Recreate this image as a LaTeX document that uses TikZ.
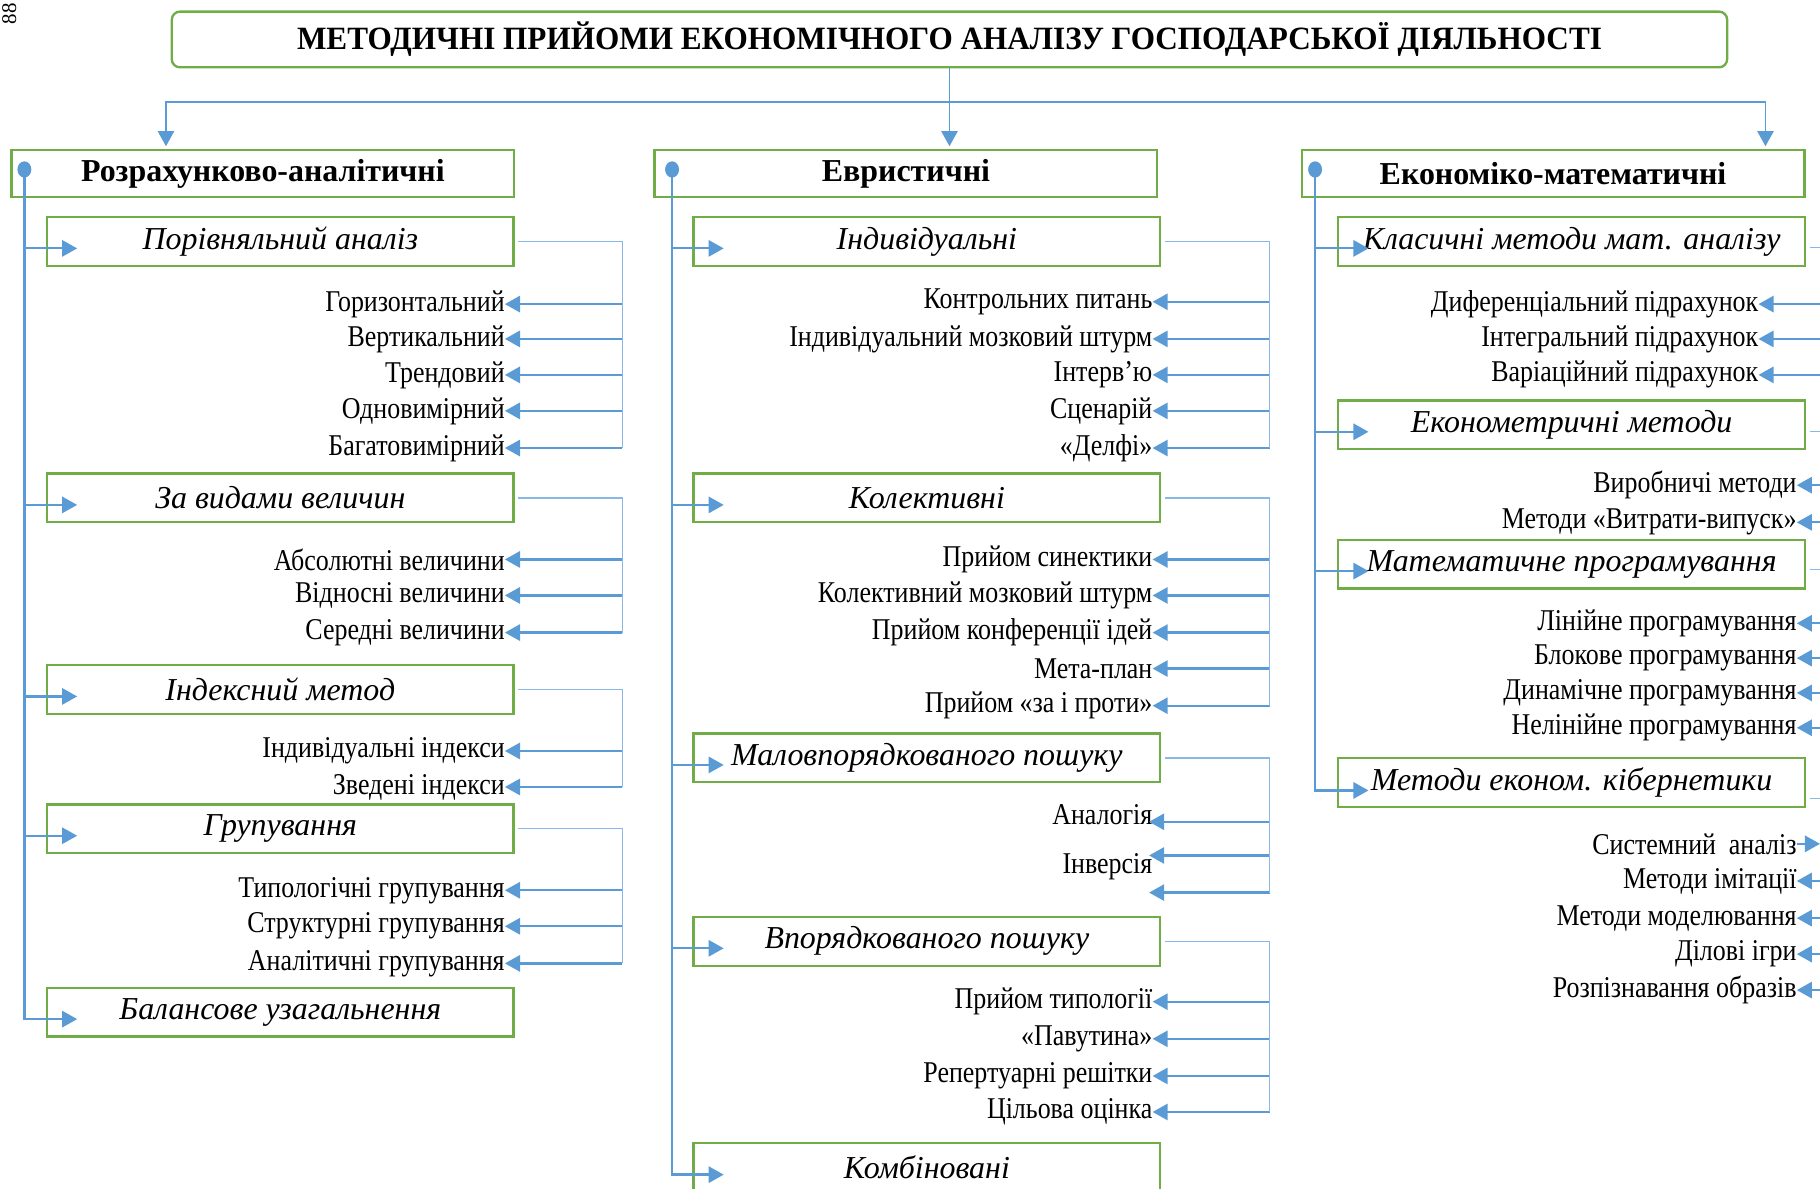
\documentclass[tikz,border=0pt]{standalone}
\usepackage{fontspec}
\setmainfont{Liberation Serif}
\newfontfamily\itemfont[FakeStretch=0.86]{Liberation Serif}
\newfontfamily\titlefont[FakeStretch=0.96]{Liberation Serif}
\usetikzlibrary{arrows.meta,shapes.geometric}

\definecolor{boxgreen}{HTML}{70AD47}
\definecolor{arrblue}{HTML}{5B9BD5}
\definecolor{linkblue}{HTML}{8AB8E6}

\tikzset{
  titlebox/.style={draw=boxgreen, line width=2pt, rounded corners=7pt,
    minimum width=1340pt, minimum height=48pt,
    font=\titlefont\bfseries\fontsize{28}{30}\selectfont},
  hdrbox/.style={draw=boxgreen, line width=2pt, minimum width=433pt,
    minimum height=41pt, font=\bfseries\fontsize{27.5}{30}\selectfont},
  subbox/.style={draw=boxgreen, line width=2pt, minimum width=402pt,
    minimum height=42pt, font=\itshape\fontsize{27.5}{30}\selectfont},
  itm/.style={anchor=east, inner sep=0pt, font=\itemfont\fontsize{26}{28}\selectfont},
  dot/.style={ellipse, fill=arrblue, inner sep=0pt, minimum width=12pt, minimum height=14pt},
  arr/.style={draw=arrblue, line width=1.9pt, -{Triangle[length=13pt,width=14pt]}},
  link/.style={draw=linkblue, line width=1pt}
}

\begin{document}
\begin{tikzpicture}[x=1pt,y=-1pt]
  \useasboundingbox (0,0) rectangle (1568,1024);
  \node[rotate=90, inner sep=0pt, font=\fontsize{18}{18}\selectfont] (pg) at (8,12) {88};

  % title and the three groups
  \node[titlebox] (T) at (818,34) {МЕТОДИЧНІ ПРИЙОМИ ЕКОНОМІЧНОГО АНАЛІЗУ ГОСПОДАРСЬКОЇ ДІЯЛЬНОСТІ};
  \node[hdrbox] (R) at (226.5,149.5) {Розрахунково-аналітичні};
  \node[hdrbox] (E) at (780.5,149.5) {Евристичні};
  \node[hdrbox] (M) at (1338,149.5) {Економіко-математичні};
  \coordinate (split) at (818,88);
  \coordinate (in1) at (143,126);
  \coordinate (in2) at (818,126);
  \coordinate (in3) at (1521,126);
  \draw[link, line width=1.3pt, draw=arrblue] (T.south) -- (split);
  \draw[arr, line width=1.4pt] (split) -| (in1);
  \draw[arr, line width=1.4pt] (split) -- (in2);
  \draw[arr, line width=1.4pt] (split) -| (in3);
  \node[dot] (d1) at (21,146) {};
  \node[dot] (d2) at (579,146) {};
  \node[dot] (d3) at (1133,146) {};

  % ---------- Розрахунково-аналітичні
  \node[subbox] (R1) at (241.5,208) {Порівняльний аналіз};
  \node[subbox] (R2) at (241.5,429) {За видами величин};
  \node[subbox] (R3) at (241.5,594) {Індексний метод};
  \node[subbox] (R4) at (241.5,714) {Групування};
  \node[subbox] (R5) at (241.5,872) {Балансове узагальнення};
  \foreach \b in {R1,R2,R3,R4}
    \draw[arr] ([yshift=-6pt]\b.west -| d1) -- ([xshift=27pt,yshift=-6pt]\b.west);
  \draw[arr, line width=2pt] (d1.center) |- ([xshift=27pt,yshift=-6pt]R5.west);
  \coordinate (g1) at (536,0);
  \foreach \t/\y [count=\i] in {Горизонтальний/262, Вертикальний/292, Трендовий/323,
      Одновимірний/354, Багатовимірний/386} {
    \node[itm] (R1-\i) at (435,\y) {\t};
    \draw[arr] (R1-\i.east -| g1) -- (R1-\i.east);
  }
  \foreach \t/\y [count=\i] in {Абсолютні величини/482, Відносні величини/513,
      Середні величини/545} {
    \node[itm] (R2-\i) at (435,\y) {\t};
    \draw[arr] (R2-\i.east -| g1) -- (R2-\i.east);
  }
  \foreach \t/\y [count=\i] in {Індивідуальні індекси/647, Зведені індекси/678} {
    \node[itm] (R3-\i) at (435,\y) {\t};
    \draw[arr] (R3-\i.east -| g1) -- (R3-\i.east);
  }
  \foreach \t/\y [count=\i] in {Типологічні групування/767, Структурні групування/798,
      Аналітичні групування/830} {
    \node[itm] (R4-\i) at (435,\y) {\t};
    \draw[arr] (R4-\i.east -| g1) -- (R4-\i.east);
  }
  \draw[link] ([xshift=3pt]R1.east) -| (R1-5.east -| g1);
  \draw[link] ([xshift=3pt]R2.east) -| (R2-3.east -| g1);
  \draw[link] ([xshift=3pt]R3.east) -| (R3-2.east -| g1);
  \draw[link] ([xshift=3pt]R4.east) -| (R4-3.east -| g1);

  % ---------- Евристичні
  \node[subbox] (E1) at (798.5,208) {Індивідуальні};
  \node[subbox] (E2) at (798.5,429) {Колективні};
  \node[subbox] (E3) at (798.5,653) {Маловпорядкованого пошуку};
  \node[subbox] (E4) at (798.5,811) {Впорядкованого пошуку};
  \node[subbox] (E5) at (798.5,1006) {Комбіновані};
  \foreach \b in {E1,E2,E3,E4}
    \draw[arr] ([yshift=-6pt]\b.west -| d2) -- ([xshift=27pt,yshift=-6pt]\b.west);
  \draw[arr, line width=2pt] (d2.center) |- ([xshift=27pt,yshift=-6pt]E5.west);
  \coordinate (g2) at (1094,0);
  \foreach \t/\y [count=\i] in {Контрольних питань/260, Індивідуальний мозковий штурм/292,
      Інтерв’ю/323, Сценарій/354, «Делфі»/386} {
    \node[itm] (E1-\i) at (993,\y) {\t};
    \draw[arr] (E1-\i.east -| g2) -- (E1-\i.east);
  }
  \foreach \t/\y [count=\i] in {Прийом синектики/482, Колективний мозковий штурм/513,
      Прийом конференції ідей/545, Мета-план/576, Прийом «за і проти»/608} {
    \node[itm] (E2-\i) at (993,\y) {\t};
    \draw[arr] (E2-\i.east -| g2) -- (E2-\i.east);
  }
  \node[itm] (E3-1) at (993,702) {Аналогія};
  \node[itm] (E3-2) at (993,747) {Інверсія};
  \coordinate (e3a) at (990,708);
  \coordinate (e3b) at (990,737);
  \coordinate (e3c) at (990,769);
  \foreach \c in {e3a,e3b,e3c}
    \draw[arr] (\c -| g2) -- (\c);
  \foreach \t/\y [count=\i] in {Прийом типології/863, «Павутина»/895,
      Репертуарні решітки/927, Цільова оцінка/958} {
    \node[itm] (E4-\i) at (993,\y) {\t};
    \draw[arr] (E4-\i.east -| g2) -- (E4-\i.east);
  }
  \draw[link] ([xshift=3pt]E1.east) -| (E1-5.east -| g2);
  \draw[link] ([xshift=3pt]E2.east) -| (E2-5.east -| g2);
  \draw[link] ([xshift=3pt]E3.east) -| (e3c -| g2);
  \draw[link] ([xshift=3pt]E4.east) -| (E4-4.east -| g2);

  % ---------- Економіко-математичні
  \node[subbox] (M1) at (1354,208) {Класичні методи мат. аналізу};
  \node[subbox] (M2) at (1354,366) {Економетричні методи};
  \node[subbox] (M3) at (1354,486) {Математичне програмування};
  \node[subbox] (M4) at (1354,674) {Методи економ. кібернетики};
  \foreach \b in {M1,M2,M3}
    \draw[arr] ([yshift=-6pt]\b.west -| d3) -- ([xshift=27pt,yshift=-6pt]\b.west);
  \draw[arr, line width=2pt] (d3.center) |- ([xshift=27pt,yshift=-7pt]M4.west);
  \coordinate (g3) at (1582,0);
  \foreach \t/\y [count=\i] in {Диференціальний підрахунок/262, Інтегральний підрахунок/292,
      Варіаційний підрахунок/323} {
    \node[itm] (M1-\i) at (1515,\y) {\t};
    \draw[arr] (M1-\i.east -| g3) -- (M1-\i.east);
  }
  \foreach \t/\y [count=\i] in {Виробничі методи/418, Методи «Витрати-випуск»/450} {
    \node[itm] (M2-\i) at (1548,\y) {\t};
    \draw[arr] (M2-\i.east -| g3) -- (M2-\i.east);
  }
  \foreach \t/\y [count=\i] in {Лінійне програмування/537, Блокове програмування/567,
      Динамічне програмування/597, Нелінійне програмування/627} {
    \node[itm] (M3-\i) at (1548,\y) {\t};
    \draw[arr] (M3-\i.east -| g3) -- (M3-\i.east);
  }
  \node[itm] (M4-1) at (1548,727) {Системний\ \ аналіз};
  \draw[arr] (M4-1.east) -- ([xshift=20pt]M4-1.east);
  \foreach \t/\y [count=\i from 2] in {Методи імітації/759, Методи моделювання/791,
      Ділові ігри/822, Розпізнавання образів/853} {
    \node[itm] (M4-\i) at (1548,\y) {\t};
    \draw[arr] (M4-\i.east -| g3) -- (M4-\i.east);
  }
  \draw[link] ([xshift=3pt,yshift=-5pt]M1.east) -| (M1-3.east -| g3);
  \draw[link] ([xshift=3pt,yshift=-6pt]M2.east) -| (M2-2.east -| g3);
  \draw[link] ([xshift=3pt,yshift=-5pt]M3.east) -| (M3-4.east -| g3);
  \draw[link] ([xshift=3pt,yshift=-14pt]M4.east) -| (M4-5.east -| g3);
\end{tikzpicture}
\end{document}
